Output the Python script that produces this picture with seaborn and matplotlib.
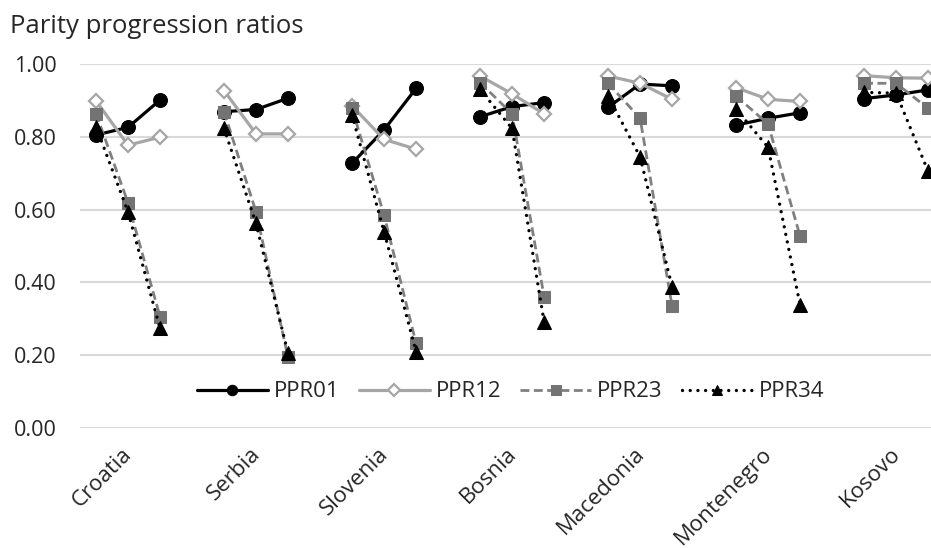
import numpy as np
import pandas as pd
import matplotlib
matplotlib.use("Agg")
import matplotlib.pyplot as plt
import seaborn as sns

countries = ["Croatia", "Serbia", "Slovenia", "Bosnia", "Macedonia", "Montenegro", "Kosovo"]
series_names = ["PPR01", "PPR12", "PPR23", "PPR34"]

ppr01 = [[0.805, 0.826, 0.901], [0.869, 0.875, 0.906], [0.727, 0.819, 0.933],
         [0.855, 0.883, 0.894], [0.881, 0.945, 0.940], [0.832, 0.851, 0.866],
         [0.905, 0.915, 0.929]]
ppr12 = [[0.899, 0.777, 0.799], [0.927, 0.808, 0.808], [0.885, 0.793, 0.766],
         [0.967, 0.918, 0.863], [0.967, 0.947, 0.903], [0.935, 0.903, 0.897],
         [0.968, 0.962, 0.961]]
ppr23 = [[0.864, 0.619, 0.306], [0.869, 0.594, 0.194], [0.878, 0.585, 0.233],
         [0.949, 0.863, 0.361], [0.947, 0.851, 0.335], [0.912, 0.835, 0.527],
         [0.947, 0.947, 0.878]]
ppr34 = [[0.828, 0.594, 0.274], [0.823, 0.562, 0.205], [0.860, 0.539, 0.210],
         [0.930, 0.823, 0.292], [0.912, 0.745, 0.388], [0.876, 0.771, 0.338],
         [0.922, 0.920, 0.705]]
yticks = [0.0, 0.2, 0.4, 0.6, 0.8, 1.0]

all_series = dict(zip(series_names, [ppr01, ppr12, ppr23, ppr34]))
slots_per_country = 4
rows = []
for s, vals in all_series.items():
    for ci, c in enumerate(countries):
        for j, v in enumerate(vals[ci]):
            rows.append({"series": s, "country": c, "slot": ci * slots_per_country + j, "value": v})
df = pd.DataFrame(rows)

sns.set_theme(style="white")
plt.rcParams["font.family"] = ["Open Sans", "DejaVu Sans"]
text_color = "#262626"

styles = {
    "PPR01": dict(color="black", marker="o", markersize=10, markerfacecolor="black",
                  markeredgecolor="black", linewidth=2.3, linestyle="-"),
    "PPR12": dict(color="#a6a6a6", marker="D", markersize=7.5, markerfacecolor="white",
                  markeredgecolor="#a6a6a6", markeredgewidth=1.6, linewidth=2.3, linestyle="-"),
    "PPR23": dict(color="#808080", marker="s", markersize=9, markerfacecolor="#737373",
                  markeredgecolor="#737373", linewidth=2.0, linestyle=(0, (3.2, 1.6))),
    "PPR34": dict(color="black", marker="^", markersize=10, markerfacecolor="black",
                  markeredgecolor="black", linewidth=2.4, linestyle=(0, (0.01, 2.3)),
                  dash_capstyle="round"),
}

fig = plt.figure(figsize=(9.31, 5.48), dpi=100)
ax = fig.add_axes([80 / 931, 1 - 428 / 548, 851 / 931, 364 / 548])

legend_handles = []
for s in series_names:
    sub = df[df["series"] == s]
    n_before = len(ax.get_lines())
    sns.lineplot(data=sub, x="slot", y="value", units="country", estimator=None,
                 ax=ax, legend=False, **styles[s])
    legend_handles.append(ax.get_lines()[n_before])

ax.set_xlim(-0.5, 26.09)
ax.set_ylim(0, 1.0)
ax.set_yticks(yticks)
ax.set_yticklabels([f"{t:.2f}" for t in yticks], fontsize=15.5, color=text_color)
ax.yaxis.grid(True, color="#d9d9d9", linewidth=1.5)
ax.set_axisbelow(True)
for sp in ax.spines.values():
    sp.set_visible(False)
ax.tick_params(axis="y", length=0, pad=17)
ax.set_xticks([ci * slots_per_country + 0.8 for ci in range(len(countries))])
ax.set_xticklabels(countries, rotation=45, ha="right", rotation_mode="anchor",
                   fontsize=16, color=text_color)
ax.tick_params(axis="x", length=0, pad=11)
ax.set_xlabel("")
ax.set_ylabel("")

ax.legend(legend_handles, series_names, loc="center", bbox_to_anchor=(0.506, 0.099),
          ncol=4, frameon=False, fontsize=16, handlelength=3.2, handletextpad=0.27,
          columnspacing=0.85, markerscale=0.75, labelcolor=text_color)

fig.text(10 / 931, 1 - 33 / 548, "Parity progression ratios", fontsize=18.5,
         color=text_color, ha="left", va="baseline")

fig.savefig("out.png", dpi=100)
